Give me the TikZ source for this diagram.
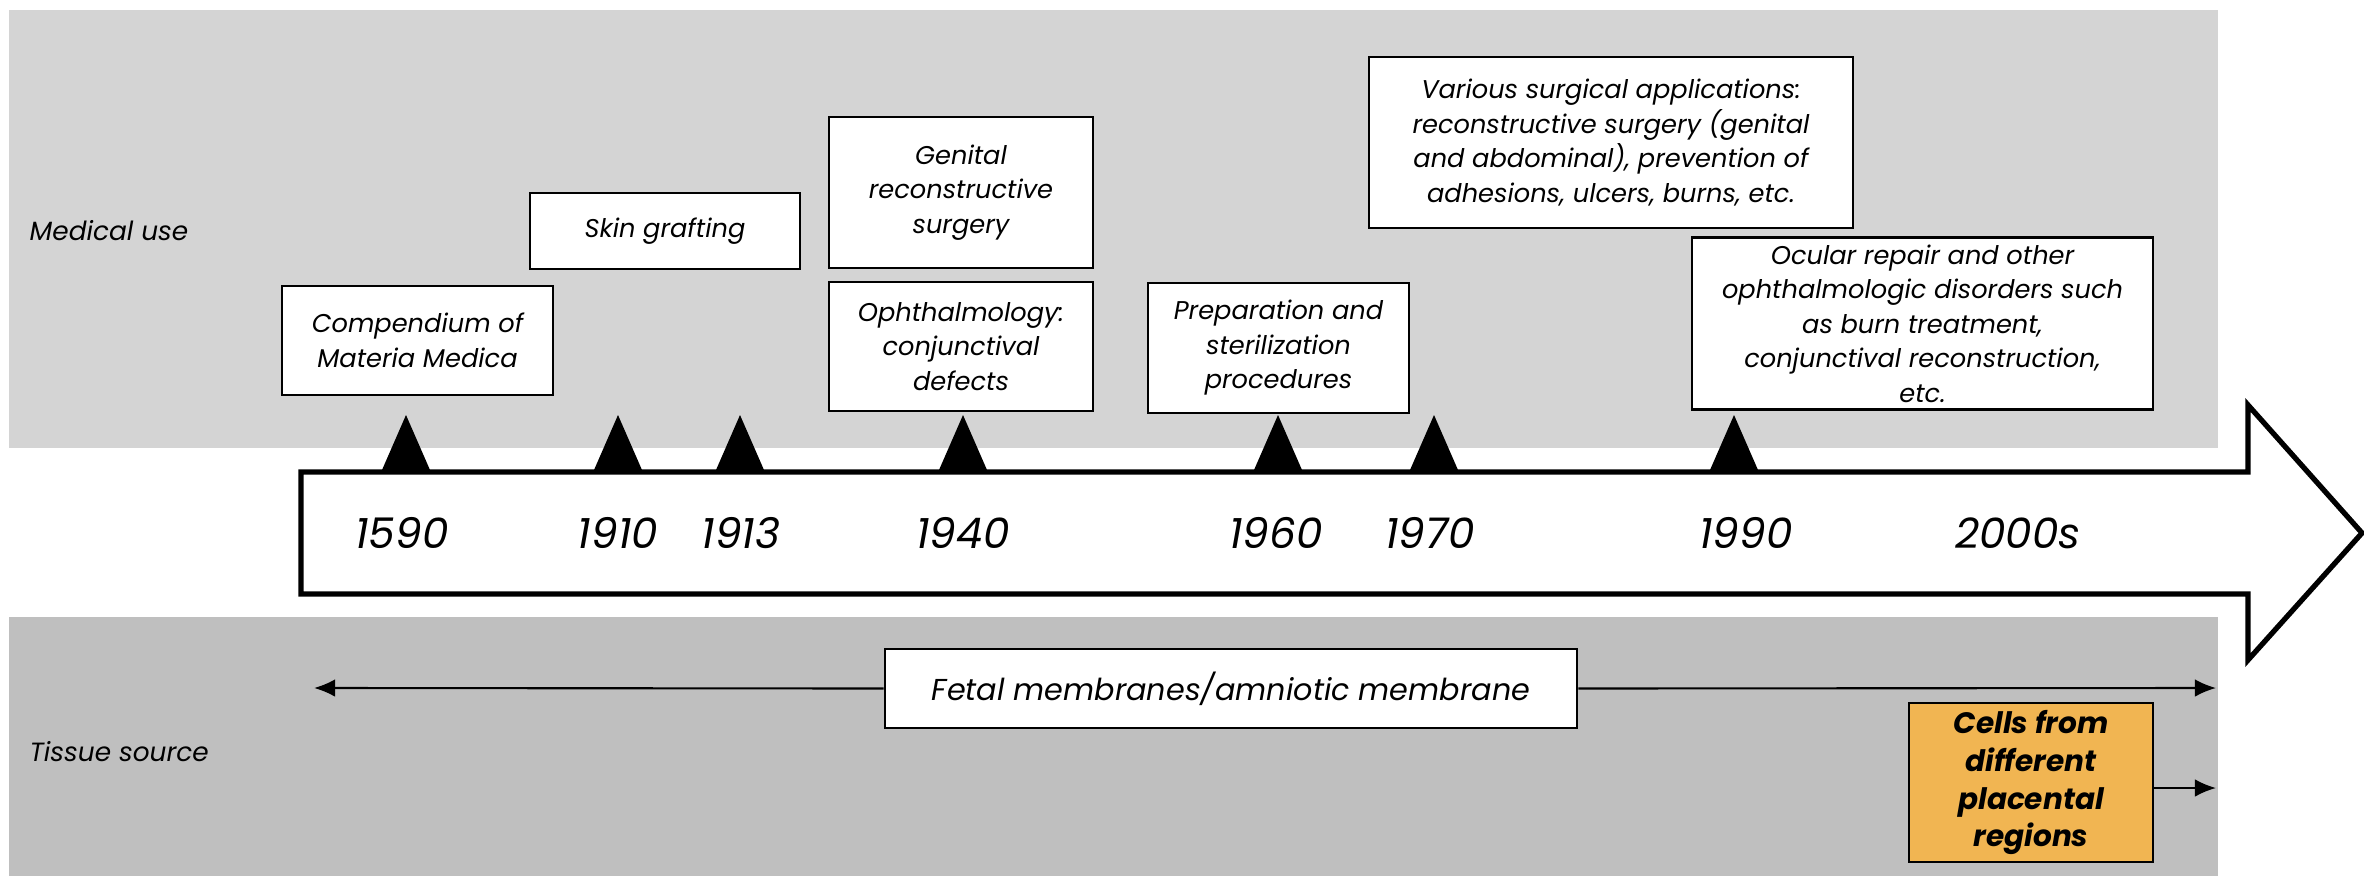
\documentclass[tikz,border=0pt]{standalone}
\usepackage{fontspec}
\setmainfont{Poppins}
\usepackage{tikz}
\usetikzlibrary{arrows.meta}

\definecolor{medgray}{HTML}{D4D4D4}
\definecolor{tissuegray}{HTML}{BFBFBF}
\definecolor{cellorange}{HTML}{F1B552}

\tikzset{
  event/.style={draw=black, fill=white, line width=0.7pt, align=center, inner sep=2pt, font=\fontsize{7.3}{9.8}\selectfont\itshape},
  year/.style={font=\fontsize{12}{14}\selectfont\itshape, inner sep=0pt},
  rowlabel/.style={anchor=west, inner sep=0pt, font=\fontsize{7.5}{9}\selectfont\itshape},
  source/.style={-{Latex[length=6pt,width=5pt]}, line width=0.6pt},
}

\begin{document}
\begin{tikzpicture}[x=0.01cm, y=-0.01cm]
\useasboundingbox (0,0) rectangle (2364,876);

% bands
\fill[medgray] (9,10) rectangle (2218,448);
\fill[tissuegray] (9,617) rectangle (2218,876);

\node[rowlabel] (medical) at (29,231) {Medical use};
\node[rowlabel] (tissue) at (29,752) {Tissue source};

% timeline
\draw[line width=1.5pt, fill=white, line join=miter] (301,472) -- (2248,472) -- (2248,405) -- (2362,533) -- (2248,660) -- (2248,594) -- (301,594) -- cycle;

\fill (382,470) -- (406,415) -- (430,470) -- cycle;
\fill (594,470) -- (618,415) -- (642,470) -- cycle;
\fill (716,470) -- (740,415) -- (764,470) -- cycle;
\fill (939,470) -- (963,415) -- (987,470) -- cycle;
\fill (1254,470) -- (1278,415) -- (1302,470) -- cycle;
\fill (1410,470) -- (1434,415) -- (1458,470) -- cycle;
\fill (1710,470) -- (1734,415) -- (1758,470) -- cycle;

\node[year] (y1590) at (402,533) {1590};
\node[year] (y1910) at (618,533) {1910};
\node[year] (y1913) at (741,533) {1913};
\node[year] (y1940) at (963,533) {1940};
\node[year] (y1960) at (1276,533) {1960};
\node[year] (y1970) at (1430,533) {1970};
\node[year] (y1990) at (1746,533) {1990};
\node[year] (y2000) at (2018,533) {2000s};

% medical use
\node[event, minimum width=2.71cm, minimum height=1.09cm] (compendium) at (417.5,340.5) {Compendium of\\Materia Medica};
\node[event, minimum width=2.70cm, minimum height=0.76cm] (skin) at (665,231) {Skin grafting};
\node[event, minimum width=2.64cm, minimum height=1.51cm] (genital) at (961,192.5) {Genital\\reconstructive\\surgery};
\node[event, minimum width=2.64cm, minimum height=1.29cm] (ophthalmo) at (961,346.5) {Ophthalmology:\\conjunctival\\defects};
\node[event, minimum width=2.61cm, minimum height=1.30cm] (preparation) at (1278.5,348) {Preparation and\\sterilization\\procedures};
\node[event, minimum width=4.84cm, minimum height=1.71cm] (various) at (1611,142.5) {Various surgical applications:\\reconstructive surgery (genital\\and abdominal), prevention of\\adhesions, ulcers, burns, etc.};
\node[event, minimum width=4.61cm, minimum height=1.69cm] (ocular) at (1922.5,323.5) {Ocular repair and other\\ophthalmologic disorders such\\as burn treatment,\\conjunctival reconstruction,\\etc.};

% tissue source
\node[event, minimum width=6.92cm, minimum height=0.79cm, font=\fontsize{8.6}{11}\selectfont\itshape] (fetal) at (1231,688.5) {Fetal membranes/amniotic membrane};
\node[event, fill=cellorange, minimum width=2.44cm, minimum height=1.59cm, font=\fontsize{8.4}{10.8}\selectfont\bfseries\itshape] (cells) at (2031,782.5) {Cells from\\different\\placental\\regions};

\coordinate (fetalstart) at (314,688);
\coordinate (fetalend) at (2216,688);
\coordinate (cellsend) at (2216,788);
\draw[source] (fetal.west) -- (fetalstart);
\draw[source] (fetal.east) -- (fetalend);
\draw[source] (cells.east |- cellsend) -- (cellsend);

\end{tikzpicture}
\end{document}
